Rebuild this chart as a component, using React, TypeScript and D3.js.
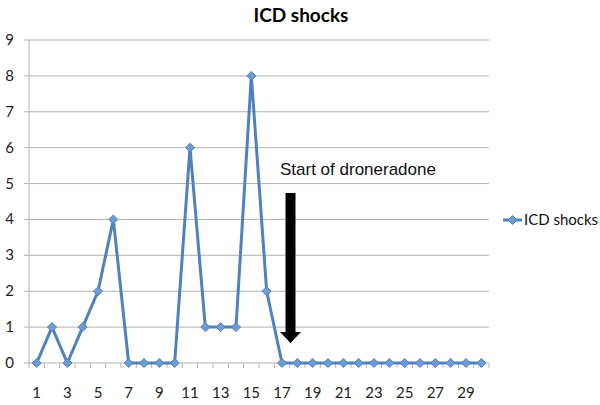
import React from "react";
import * as d3 from "d3";

const categories: string[] = Array.from({ length: 30 }, (_, i) => String(i + 1));
const shocks: number[] = [0, 1, 0, 1, 2, 4, 0, 0, 0, 0, 6, 1, 1, 1, 8, 2, 0, 0, 0, 0, 0, 0, 0, 0, 0, 0, 0, 0, 0, 0];
const yTicks: number[] = [0, 1, 2, 3, 4, 5, 6, 7, 8, 9];
const seriesName = "ICD shocks";
const chartTitle = "ICD shocks";
const annotation = "Start of droneradone";
const arrowCategory = "17";

export default function App() {
  const W = 600, H = 405;
  const left = 29, right = 489, top = 40, bottom = 363;
  const x = d3.scaleBand<string>().domain(categories).range([left, right]).padding(0);
  const y = d3.scaleLinear().domain([0, 9]).range([bottom, top]);
  const cx = (c: string) => (x(c) as number) + x.bandwidth() / 2;
  const line = d3.line<number>().x((_, i) => cx(categories[i])).y((d) => y(d));
  const color = "#4F81BD";
  const markerFill = "#6F9BD4";
  const diamond = (px: number, py: number, r = 4.5) =>
    `M${px},${py - r}L${px + r},${py}L${px},${py + r}L${px - r},${py}Z`;
  const font = "Lato, 'Open Sans', sans-serif";
  const ax = cx(arrowCategory) + 8.5;
  return (
    <svg width={W} height={H} style={{ position: "absolute", left: 0, top: 0 }}>
      <rect width={W} height={H} fill="#fff" />
      <text x={301} y={22} textAnchor="middle" fontFamily={font} fontWeight="bold" fontSize={19}>{chartTitle}</text>
      {yTicks.map((t) => (
        <g key={t}>
          <line x1={left} x2={right} y1={y(t)} y2={y(t)} stroke="#b3b3b3" strokeWidth={1} />
          <line x1={left - 5} x2={left} y1={y(t)} y2={y(t)} stroke="#b3b3b3" strokeWidth={1} />
          <text x={14} y={y(t) + 5} textAnchor="end" fontFamily={font} fontSize={15} fill="#222">{t}</text>
        </g>
      ))}
      <line x1={left} x2={left} y1={top} y2={bottom} stroke="#b3b3b3" strokeWidth={1} />
      {d3.range(categories.length + 1).map((i) => {
        const xp = left + i * x.step();
        return <line key={i} x1={xp} x2={xp} y1={bottom} y2={bottom + 5} stroke="#b3b3b3" strokeWidth={1} />;
      })}
      {categories.map((c, i) =>
        i % 2 === 0 ? (
          <text key={c} x={cx(c)} y={398} textAnchor="middle" fontFamily={font} fontSize={15} fill="#222">{c}</text>
        ) : null
      )}
      <path d={line(shocks) || ""} fill="none" stroke={color} strokeWidth={3} strokeLinejoin="round" />
      {shocks.map((v, i) => (
        <path key={i} d={diamond(cx(categories[i]), y(v))} fill={markerFill} stroke={color} strokeWidth={1} />
      ))}
      <text x={280} y={175} fontFamily="'Liberation Sans', Arial, sans-serif" fontSize={17} fill="#111">{annotation}</text>
      <path
        d={`M${ax - 5},193 L${ax + 5},193 L${ax + 5},332 L${ax + 10.5},332 L${ax},343 L${ax - 10.5},332 L${ax - 5},332 Z`}
        fill="#000"
      />
      <line x1={503} x2={522} y1={220} y2={220} stroke={color} strokeWidth={3} />
      <path d={diamond(512.5, 220)} fill={markerFill} stroke={color} strokeWidth={1} />
      <text x={524} y={225} fontFamily={font} fontSize={15} fill="#111">{seriesName}</text>
    </svg>
  );
}
